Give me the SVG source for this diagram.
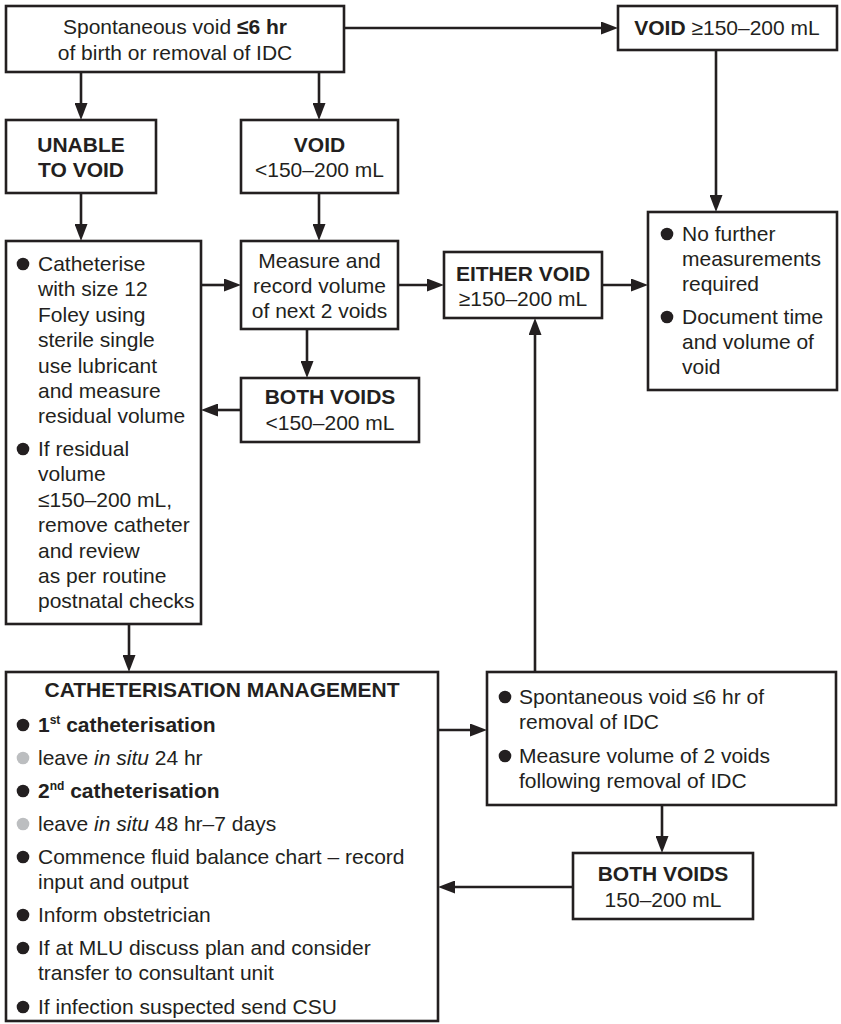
<svg xmlns="http://www.w3.org/2000/svg" width="841" height="1024" viewBox="0 0 841 1024">
  <style>
    .box { fill: #ffffff; stroke: #231f20; stroke-width: 2.6; }
    .lnk { fill: none; stroke: #231f20; stroke-width: 2.6; marker-end: url(#arrow); }
    text { font-family: "Liberation Sans", Arial, Helvetica, sans-serif; font-size: 21px; fill: #231f20; }
    .c { text-anchor: middle; }
    .b { font-weight: bold; }
    .dot { fill: #231f20; }
    .grey { fill: #bcbec0; }
    .sup { font-size: 12px; }
  </style>
  <defs>
    <marker id="arrow" markerUnits="userSpaceOnUse" markerWidth="18" markerHeight="13" refX="7" refY="6.5" orient="auto">
      <path d="M0,0 L17,6.5 L0,13 Z" fill="#231f20"/>
    </marker>
  </defs>
  <rect width="841" height="1024" fill="#ffffff"/>

  <!-- connectors -->
  <g id="connectors">
    <line class="lnk" x1="81" y1="72" x2="81" y2="110"/>
    <line class="lnk" x1="319" y1="72" x2="319" y2="110"/>
    <line class="lnk" x1="344" y1="28" x2="608" y2="28"/>
    <line class="lnk" x1="716" y1="50" x2="716" y2="202"/>
    <line class="lnk" x1="81" y1="193" x2="81" y2="231"/>
    <line class="lnk" x1="319" y1="193" x2="319" y2="231"/>
    <line class="lnk" x1="201" y1="285" x2="231" y2="285"/>
    <line class="lnk" x1="398" y1="285" x2="434" y2="285"/>
    <line class="lnk" x1="602" y1="285" x2="638" y2="285"/>
    <line class="lnk" x1="307" y1="329" x2="307" y2="368"/>
    <line class="lnk" x1="241" y1="410" x2="211" y2="410"/>
    <line class="lnk" x1="129" y1="624" x2="129" y2="662"/>
    <line class="lnk" x1="438" y1="730" x2="477" y2="730"/>
    <line class="lnk" x1="535" y1="672" x2="535" y2="328"/>
    <line class="lnk" x1="662" y1="805" x2="662" y2="843"/>
    <line class="lnk" x1="573" y1="887" x2="448" y2="887"/>
  </g>

  <!-- start: spontaneous void within 6 hr -->
  <g id="start">
    <rect class="box" x="6" y="6" width="338" height="66"/>
    <text class="c" x="175" y="34">Spontaneous void <tspan class="b">≤6 hr</tspan></text>
    <text class="c" x="175" y="60">of birth or removal of IDC</text>
  </g>

  <g id="void-ok-top">
    <rect class="box" x="618" y="6" width="219" height="44"/>
    <text class="c" x="727" y="35"><tspan class="b">VOID</tspan> ≥150–200 mL</text>
  </g>

  <g id="unable">
    <rect class="box" x="6" y="120" width="150" height="73"/>
    <text class="c b" x="81" y="152">UNABLE</text>
    <text class="c b" x="81" y="177">TO VOID</text>
  </g>

  <g id="void-low">
    <rect class="box" x="241" y="120" width="157" height="73"/>
    <text class="c b" x="319.5" y="152">VOID</text>
    <text class="c" x="319.5" y="177">&lt;150–200 mL</text>
  </g>

  <g id="catheterise">
    <rect class="box" x="6" y="241" width="195" height="383"/>
    <circle class="dot" cx="23" cy="264" r="6.3"/>
    <text x="38" y="271">Catheterise</text>
    <text x="38" y="296.4">with size 12</text>
    <text x="38" y="321.8">Foley using</text>
    <text x="38" y="347.2">sterile single</text>
    <text x="38" y="372.6">use lubricant</text>
    <text x="38" y="398">and measure</text>
    <text x="38" y="423.4">residual volume</text>
    <circle class="dot" cx="23" cy="449" r="6.3"/>
    <text x="38" y="456">If residual</text>
    <text x="38" y="481.4">volume</text>
    <text x="38" y="506.8">≤150–200 mL,</text>
    <text x="38" y="532.2">remove catheter</text>
    <text x="38" y="557.6">and review</text>
    <text x="38" y="583">as per routine</text>
    <text x="38" y="608.4">postnatal checks</text>
  </g>

  <g id="measure">
    <rect class="box" x="241" y="241" width="157" height="88"/>
    <text class="c" x="319.5" y="268">Measure and</text>
    <text class="c" x="319.5" y="293">record volume</text>
    <text class="c" x="319.5" y="318">of next 2 voids</text>
  </g>

  <g id="both-low">
    <rect class="box" x="241" y="378" width="178" height="64"/>
    <text class="c b" x="330" y="404">BOTH VOIDS</text>
    <text class="c" x="330" y="430">&lt;150–200 mL</text>
  </g>

  <g id="either">
    <rect class="box" x="444" y="252" width="158" height="66"/>
    <text class="c b" x="523" y="281">EITHER VOID</text>
    <text class="c" x="523" y="306">≥150–200 mL</text>
  </g>

  <g id="no-further">
    <rect class="box" x="648" y="212" width="189" height="178"/>
    <circle class="dot" cx="667" cy="234" r="6.3"/>
    <text x="682" y="241">No further</text>
    <text x="682" y="266">measurements</text>
    <text x="682" y="291">required</text>
    <circle class="dot" cx="667" cy="317" r="6.3"/>
    <text x="682" y="324">Document time</text>
    <text x="682" y="349">and volume of</text>
    <text x="682" y="374">void</text>
  </g>

  <g id="management">
    <rect class="box" x="6" y="672" width="432" height="349"/>
    <text class="c b" x="222" y="697">CATHETERISATION MANAGEMENT</text>
    <circle class="dot" cx="23" cy="725" r="6.3"/>
    <text class="b" x="38" y="732">1<tspan class="sup" dy="-8">st</tspan><tspan dy="8"> catheterisation</tspan></text>
    <circle class="grey" cx="23" cy="758" r="6.3"/>
    <text x="38" y="765">leave <tspan font-style="italic">in situ</tspan> 24 hr</text>
    <circle class="dot" cx="23" cy="791" r="6.3"/>
    <text class="b" x="38" y="798">2<tspan class="sup" dy="-8">nd</tspan><tspan dy="8"> catheterisation</tspan></text>
    <circle class="grey" cx="23" cy="824" r="6.3"/>
    <text x="38" y="831">leave <tspan font-style="italic">in situ</tspan> 48 hr–7 days</text>
    <circle class="dot" cx="23" cy="857" r="6.3"/>
    <text x="38" y="864">Commence fluid balance chart – record</text>
    <text x="38" y="889">input and output</text>
    <circle class="dot" cx="23" cy="915" r="6.3"/>
    <text x="38" y="922">Inform obstetrician</text>
    <circle class="dot" cx="23" cy="948" r="6.3"/>
    <text x="38" y="955">If at MLU discuss plan and consider</text>
    <text x="38" y="980">transfer to consultant unit</text>
    <circle class="dot" cx="23" cy="1007" r="6.3"/>
    <text x="38" y="1014">If infection suspected send CSU</text>
  </g>

  <g id="after-removal">
    <rect class="box" x="487" y="672" width="349" height="133"/>
    <circle class="dot" cx="505" cy="697" r="6.3"/>
    <text x="519" y="704">Spontaneous void ≤6 hr of</text>
    <text x="519" y="729">removal of IDC</text>
    <circle class="dot" cx="505" cy="756" r="6.3"/>
    <text x="519" y="763">Measure volume of 2 voids</text>
    <text x="519" y="788">following removal of IDC</text>
  </g>

  <g id="both-ok">
    <rect class="box" x="573" y="853" width="180" height="66"/>
    <text class="c b" x="663" y="881">BOTH VOIDS</text>
    <text class="c" x="663" y="907">150–200 mL</text>
  </g>
</svg>
